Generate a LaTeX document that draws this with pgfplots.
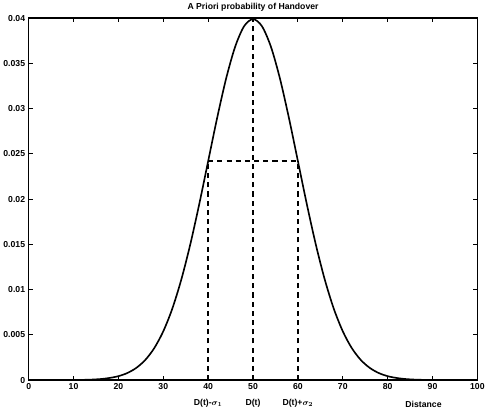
\documentclass[border=0pt]{standalone}
\usepackage{fontspec}
\setmainfont{Liberation Sans}
\usepackage{pgfplots}
\pgfplotsset{compat=1.18}
\begin{document}
\begin{tikzpicture}
\begin{axis}[
  scale only axis,
  width=440pt, height=355pt,
  xmin=0, xmax=100, ymin=0, ymax=0.04,
  xtick={0,10,...,100},
  ytick={0,0.005,0.01,0.015,0.02,0.025,0.03,0.035,0.04},
  yticklabels={0,0.005,0.01,0.015,0.02,0.025,0.03,0.035,0.04},
  /pgf/number format/assume math mode=true,
  tick label style={font=\fontsize{8.5}{9}\selectfont\bfseries},
  scaled y ticks=false,
  tick align=inside,
  major tick length=4pt,
  axis line style={line width=1.5pt},
  every tick/.style={line width=1pt, black},
  title={A Priori probability of Handover},
  title style={font=\fontsize{8.5}{9}\selectfont\bfseries, yshift=-3pt},
  clip=false,
]
% Gaussian, mean 50, sigma 10
\addplot[black, line width=1.6pt, smooth] coordinates {
(0,0) (8,0.00001) (10,0.00001) (12,0.00003) (14,0.00006) (16,0.00012) (18,0.00024)
(20,0.00044) (22,0.00079) (24,0.00136) (26,0.00224) (28,0.00355)
(30,0.00540) (32,0.00789) (34,0.01109) (36,0.01497) (38,0.01942)
(40,0.02420) (42,0.02897) (44,0.03332) (46,0.03682) (48,0.03910)
(50,0.03989) (52,0.03910) (54,0.03682) (56,0.03332) (58,0.02897)
(60,0.02420) (62,0.01942) (64,0.01497) (66,0.01109) (68,0.00789)
(70,0.00540) (72,0.00355) (74,0.00224) (76,0.00136) (78,0.00079)
(80,0.00044) (82,0.00024) (84,0.00012) (86,0.00006) (88,0.00003)
(90,0.00001) (92,0.00001) (100,0)};
\addplot[black, line width=1.6pt, dash pattern=on 5pt off 4pt] coordinates {(40,0) (40,0.0242)};
\addplot[black, line width=1.6pt, dash pattern=on 5pt off 4pt] coordinates {(60,0) (60,0.0242)};
\addplot[black, line width=1.6pt, dash pattern=on 5pt off 4pt] coordinates {(50,0) (50,0.0399)};
\addplot[black, line width=1.6pt, dash pattern=on 5pt off 4pt] coordinates {(40,0.0242) (60,0.0242)};
\node[font=\fontsize{8.5}{9}\selectfont\bfseries\boldmath, anchor=north] at (axis cs:40,0) [yshift=-15pt] {D(t)-$\sigma_1$};
\node[font=\fontsize{8.5}{9}\selectfont\bfseries\boldmath, anchor=north] at (axis cs:50,0) [yshift=-15pt] {D(t)};
\node[font=\fontsize{8.5}{9}\selectfont\bfseries\boldmath, anchor=north] at (axis cs:60,0) [yshift=-15pt] {D(t)+$\sigma_2$};
\node[font=\fontsize{8.5}{9}\selectfont\bfseries, anchor=north] at (axis cs:88,0) [yshift=-17pt] {Distance};
\end{axis}
\end{tikzpicture}
\end{document}
